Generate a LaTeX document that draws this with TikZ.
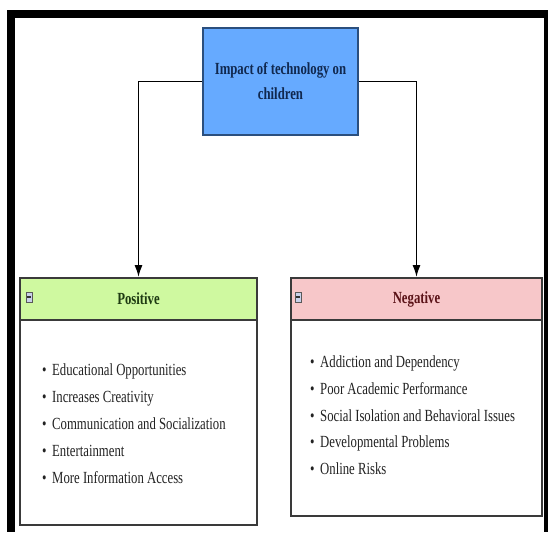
\documentclass[tikz,border=0pt]{standalone}
\usepackage{fontspec}
\setmainfont[FakeStretch=0.75]{Liberation Serif}
\usetikzlibrary{arrows.meta}
\definecolor{topfill}{HTML}{66AAFF}
\definecolor{topline}{HTML}{2B4F7E}
\definecolor{topText}{HTML}{10284F}
\definecolor{posfill}{HTML}{CFF9A0}
\definecolor{posText}{HTML}{1E3A12}
\definecolor{negfill}{HTML}{F7C7C9}
\definecolor{negText}{HTML}{5B1318}
\definecolor{boxline}{HTML}{3A3A3A}
\definecolor{itemText}{HTML}{222222}
\definecolor{iconfill}{HTML}{C9D1EA}
\tikzset{
  topbox/.style={draw=topline, line width=2pt, fill=topfill, minimum width=155pt, minimum height=107pt,
    inner sep=0pt, align=center, text=topText, font=\fontsize{17}{25}\selectfont\bfseries},
  headbox/.style={draw=boxline, line width=1.8pt, inner sep=0pt, font=\fontsize{17}{20}\selectfont\bfseries},
  bodybox/.style={draw=boxline, line width=1.8pt, fill=white, inner sep=0pt},
  itemnode/.style={anchor=west, inner sep=0pt, text height=12pt, text depth=4pt, text=itemText, font=\fontsize{17}{20}\selectfont},
  iconbox/.style={draw=gray!70!black, line width=0.4pt, fill=iconfill, minimum width=6pt, minimum height=10pt, inner sep=0pt,
    path picture={\draw[line width=1.5pt, black!80] ([xshift=1pt]path picture bounding box.west) -- ([xshift=-1pt]path picture bounding box.east);}},
  conn/.style={draw=black, line width=1.6pt, -{Latex[length=12pt,width=8pt]}},
}
\newcommand{\bul}{\makebox[10pt][l]{\textbullet}}
\begin{document}
\begin{tikzpicture}[x=1pt,y=-1pt]
\useasboundingbox (0,0) rectangle (548,532);
\fill[white] (0,0) rectangle (548,532);
% frame
\fill[black] (7,10) rectangle (15,532);
\fill[black] (7,10) rectangle (548,18);
\fill[black] (544,10) rectangle (548,532);
% top
\node[topbox] (top) at (280.5,81.5) {Impact of technology on\\children};
% positive
\node[bodybox, minimum width=237pt, minimum height=205pt] (pB) at (138.5,422.5) {};
\node[headbox, fill=posfill, text=posText, minimum width=237pt, minimum height=42pt] (pH) at (138.5,299) {Positive};
\node[iconbox] (pI) at (29,297) {};
\node[itemnode] (p1) at (42,371) {\bul Educational Opportunities};
\node[itemnode] (p2) at (42,398) {\bul Increases Creativity};
\node[itemnode] (p3) at (42,425) {\bul Communication and Socialization};
\node[itemnode] (p4) at (42,452) {\bul Entertainment};
\node[itemnode] (p5) at (42,479) {\bul More Information Access};
% negative
\node[bodybox, minimum width=251pt, minimum height=196pt] (nB) at (416.5,418) {};
\node[headbox, fill=negfill, text=negText, minimum width=251pt, minimum height=42pt] (nH) at (416.5,299) {Negative};
\node[iconbox] (nI) at (298,297) {};
\node[itemnode] (n1) at (310,363) {\bul Addiction and Dependency};
\node[itemnode] (n2) at (310,390) {\bul Poor Academic Performance};
\node[itemnode] (n3) at (310,417) {\bul Social Isolation and Behavioral Issues};
\node[itemnode] (n4) at (310,443) {\bul Developmental Problems};
\node[itemnode] (n5) at (310,470) {\bul Online Risks};
% connectors
\draw[conn] (top.west) -| (pH.north);
\draw[conn] (top.east) -| (nH.north);
\end{tikzpicture}
\end{document}
